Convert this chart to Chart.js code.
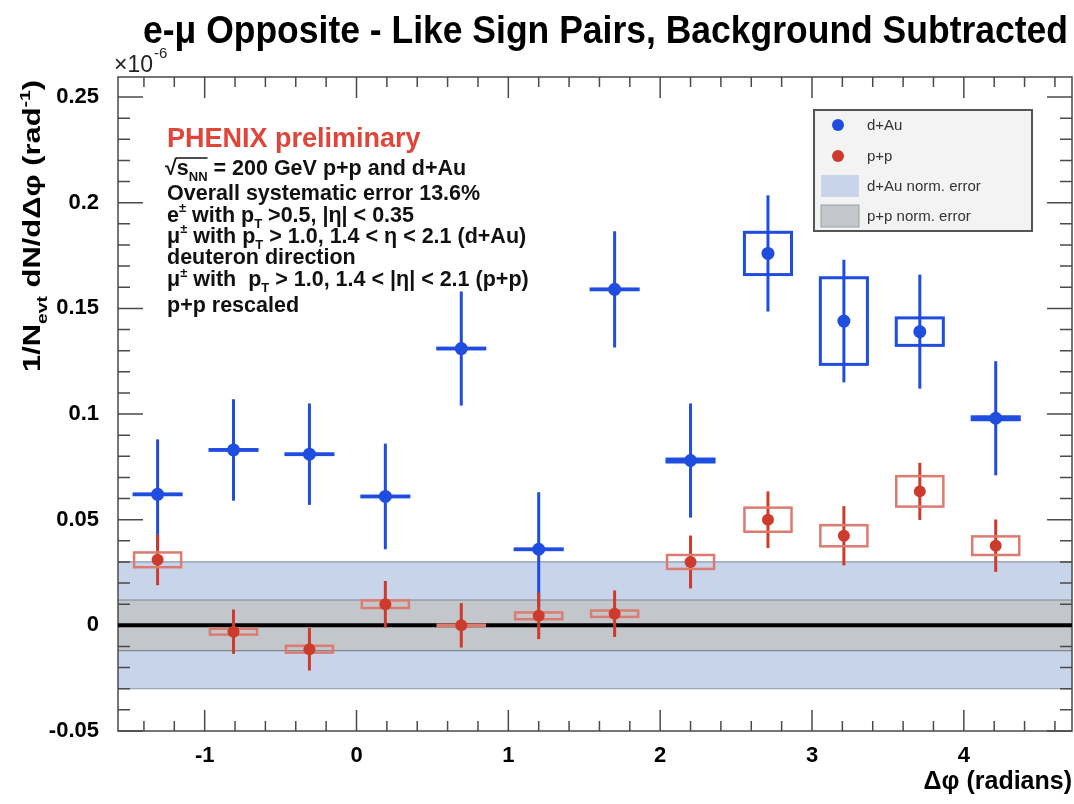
<!DOCTYPE html>
<html>
<head>
<meta charset="utf-8">
<script src="https://cdn.jsdelivr.net/npm/chart.js@4.4.1/dist/chart.umd.min.js"></script>
<style>
  html, body { margin: 0; padding: 0; background: #fff; overflow: hidden; }
  #wrap { position: relative; width: 1074px; height: 804px; }
</style>
</head>
<body>
<div id="wrap"><canvas id="emuChart"></canvas></div>
<script>
// bin centres in delta-phi (radians)
var phiBins = [-1.31, -0.81, -0.31, 0.19, 0.69, 1.20, 1.70, 2.20, 2.71, 3.21, 3.71, 4.21];

// d+Au pairs
var dAuValues = [0.062, 0.083, 0.081, 0.061, 0.131, 0.036, 0.159, 0.078, 0.176, 0.144, 0.139, 0.098];
var dAuStat   = [0.026, 0.024, 0.024, 0.025, 0.027, 0.027, 0.0275, 0.027, 0.0275, 0.029, 0.027, 0.027];
var dAuSys    = [0.0002, 0.0002, 0.0002, 0.0002, 0.0002, 0.0002, 0.0002, 0.0007, 0.010, 0.0205, 0.0065, 0.0007];

// p+p pairs (rescaled)
var ppValues = [0.031, -0.003, -0.0113, 0.010, 0.0, 0.0045, 0.0055, 0.030, 0.050, 0.0424, 0.0634, 0.0377];
var ppStat   = [0.012, 0.0105, 0.0101, 0.011, 0.0105, 0.011, 0.011, 0.0125, 0.0134, 0.014, 0.0135, 0.0124];
var ppSys    = [0.0035, 0.0014, 0.0016, 0.0018, 0.0003, 0.0016, 0.0015, 0.0033, 0.0057, 0.005, 0.0072, 0.0044];

// overall normalisation bands around zero
var dAuNormErr = 0.03;
var ppNormErr = 0.012;

var legendLabels = ['d+Au', 'p+p', 'd+Au norm. error', 'p+p norm. error'];

var blue = '#1f4de0';
var red = '#cc3b2b';
var redBox = '#dc7b70';
var blueBand = '#c7d4ea';
var greyBand = '#c3c6ca';
var FONT = '"Liberation Sans", Arial, Helvetica, sans-serif';
var BIN_HALF = 0.155;

function toPoints(xs, ys) {
    var out = [];
    for (var i = 0; i < xs.length; i++) {
        out.push({ x: xs[i], y: ys[i] });
    }
    return out;
}

// draws text made of runs: [text, 'sub' | 'sup' | undefined]
function drawRich(ctx, runs, x, y, size, weight) {
    var xs = [];
    runs.forEach(function (r) {
        var small = r[1] === 'sub' || r[1] === 'sup';
        var s = small ? Math.round(size * 0.62) : size;
        var dy = r[1] === 'sub' ? size * 0.3 : (r[1] === 'sup' ? -size * 0.42 : 0);
        ctx.font = weight + ' ' + s + 'px ' + FONT;
        xs.push(x);
        ctx.fillText(r[0], x, y + dy);
        x += ctx.measureText(r[0]).width;
    });
    xs.push(x);
    return xs;
}

function richWidth(ctx, runs, size, weight) {
    var w = 0;
    runs.forEach(function (r) {
        var small = r[1] === 'sub' || r[1] === 'sup';
        ctx.font = weight + ' ' + (small ? Math.round(size * 0.62) : size) + 'px ' + FONT;
        w += ctx.measureText(r[0]).width;
    });
    return w;
}

var yTitle = [['1/N'], ['evt', 'sub'], [' dN/d\u0394\u03c6 (rad'], ['-1', 'sup'], [')']];

var infoLines = [
    [['Overall systematic error 13.6%']],
    [['e'], ['\u00b1', 'sup'], [' with p'], ['T', 'sub'], [' >0.5, |\u03b7| < 0.35']],
    [['\u03bc'], ['\u00b1', 'sup'], [' with p'], ['T', 'sub'], [' > 1.0, 1.4 < \u03b7 < 2.1 (d+Au)']],
    [['deuteron direction']],
    [['\u03bc'], ['\u00b1', 'sup'], [' with  p'], ['T', 'sub'], [' > 1.0, 1.4 < |\u03b7| < 2.1 (p+p)']],
    [['p+p rescaled']]
];

var phenixPlugin = {
    id: 'phenixDecor',

    beforeDatasetsDraw: function (chart) {
        var ctx = chart.ctx, a = chart.chartArea;
        var xs = chart.scales.x, ys = chart.scales.y;
        ctx.save();

        // normalisation bands
        var bTop = ys.getPixelForValue(dAuNormErr), bBot = ys.getPixelForValue(-dAuNormErr);
        ctx.fillStyle = blueBand;
        ctx.fillRect(a.left, bTop, a.right - a.left, bBot - bTop);
        var gTop = ys.getPixelForValue(ppNormErr), gBot = ys.getPixelForValue(-ppNormErr);
        ctx.fillStyle = greyBand;
        ctx.fillRect(a.left, gTop, a.right - a.left, gBot - gTop);
        ctx.lineWidth = 1.2;
        ctx.strokeStyle = '#8d97a8';
        [bTop, bBot].forEach(function (py) {
            ctx.beginPath(); ctx.moveTo(a.left, py); ctx.lineTo(a.right, py); ctx.stroke();
        });
        ctx.strokeStyle = '#80868d';
        [gTop, gBot].forEach(function (py) {
            ctx.beginPath(); ctx.moveTo(a.left, py); ctx.lineTo(a.right, py); ctx.stroke();
        });

        // frame with inward ticks
        ctx.strokeStyle = '#4a4a4a';
        ctx.lineWidth = 1.5;
        var v, px, len;
        for (v = -1.4; v < 4.7; v += 0.2) {
            px = xs.getPixelForValue(v);
            len = Math.abs(v - Math.round(v)) < 1e-6 ? 21 : 10;
            ctx.beginPath();
            ctx.moveTo(px, a.bottom); ctx.lineTo(px, a.bottom - len);
            ctx.moveTo(px, a.top); ctx.lineTo(px, a.top + len);
            ctx.stroke();
        }
        for (var k = -5; k <= 25; k++) {
            px = ys.getPixelForValue(k / 100);
            len = k % 5 === 0 ? 25 : 12;
            ctx.beginPath();
            ctx.moveTo(a.left, px); ctx.lineTo(a.left + len, px);
            ctx.moveTo(a.right, px); ctx.lineTo(a.right - len, px);
            ctx.stroke();
        }
        ctx.strokeRect(a.left, a.top, a.right - a.left, a.bottom - a.top);

        // zero line
        var z = ys.getPixelForValue(0);
        ctx.strokeStyle = '#000';
        ctx.lineWidth = 4;
        ctx.beginPath(); ctx.moveTo(a.left, z); ctx.lineTo(a.right, z); ctx.stroke();
        ctx.restore();
    },

    // error bars and systematic boxes go under each dataset's markers
    beforeDatasetDraw: function (chart, args) {
        var ctx = chart.ctx;
        var xs = chart.scales.x, ys = chart.scales.y;
        var isPP = args.index === 0;
        var vals = isPP ? ppValues : dAuValues;
        var stat = isPP ? ppStat : dAuStat;
        var sys = isPP ? ppSys : dAuSys;
        ctx.save();
        for (var i = 0; i < phiBins.length; i++) {
            var cx = xs.getPixelForValue(phiBins[i]);
            ctx.strokeStyle = isPP ? red : blue;
            ctx.lineWidth = 3;
            ctx.beginPath();
            ctx.moveTo(cx, ys.getPixelForValue(vals[i] + stat[i]));
            ctx.lineTo(cx, ys.getPixelForValue(vals[i] - stat[i]));
            ctx.stroke();

            var x0 = xs.getPixelForValue(phiBins[i] - BIN_HALF);
            var x1 = xs.getPixelForValue(phiBins[i] + BIN_HALF);
            var y0 = ys.getPixelForValue(vals[i] + sys[i]);
            var y1 = ys.getPixelForValue(vals[i] - sys[i]);
            ctx.strokeStyle = isPP ? redBox : blue;
            ctx.lineWidth = isPP ? 2.5 : 3;
            ctx.strokeRect(x0, y0, x1 - x0, y1 - y0);
        }
        ctx.restore();
    },

    afterDraw: function (chart) {
        var ctx = chart.ctx;
        ctx.save();
        ctx.textBaseline = 'alphabetic';
        ctx.textAlign = 'left';

        // main title, squeezed to the frame width like a narrow face
        var title = 'e-\u03bc Opposite - Like Sign Pairs, Background Subtracted';
        ctx.font = 'bold 39px ' + FONT;
        var tw = ctx.measureText(title).width;
        ctx.fillStyle = '#000';
        ctx.save();
        ctx.translate(143, 43);
        ctx.scale(925 / tw, 1);
        ctx.fillText(title, 0, 0);
        ctx.restore();

        // axis exponent
        ctx.fillStyle = '#222';
        ctx.font = '23px ' + FONT;
        ctx.fillText('\u00d710', 114, 72);
        var ew = ctx.measureText('\u00d710').width;
        ctx.font = '15px ' + FONT;
        ctx.fillText('-6', 114 + ew + 1, 58);

        // y axis title, fitted along the axis
        var yw = richWidth(ctx, yTitle, 24, 'bold');
        ctx.save();
        ctx.translate(40, 372);
        ctx.rotate(-Math.PI / 2);
        ctx.scale(292 / yw, 1);
        ctx.fillStyle = '#000';
        drawRich(ctx, yTitle, 0, 0, 24, 'bold');
        ctx.restore();

        // experiment label and cuts
        ctx.fillStyle = '#e0453a';
        ctx.font = 'bold 27px ' + FONT;
        ctx.fillText('PHENIX preliminary', 167, 147);

        ctx.fillStyle = '#111';
        var xsq = drawRich(ctx, [['\u221a'], ['s'], ['NN', 'sub'], [' = 200 GeV p+p and d+Au']], 165, 175, 21.5, 'bold');
        ctx.strokeStyle = '#111';
        ctx.lineWidth = 1.6;
        ctx.beginPath();
        ctx.moveTo(xsq[1] - 1, 158);
        ctx.lineTo(xsq[3], 158);
        ctx.stroke();
        var base = [200, 221.5, 242.5, 263.5, 286, 311.5];
        infoLines.forEach(function (runs, i) {
            drawRich(ctx, runs, 167, base[i], 21.5, 'bold');
        });

        // legend box
        ctx.fillStyle = '#f3f3f3';
        ctx.fillRect(814, 110, 218, 121);
        ctx.strokeStyle = '#555';
        ctx.lineWidth = 2;
        ctx.strokeRect(814, 110, 218, 121);
        var rows = [125, 156, 186, 216];
        ctx.fillStyle = blue;
        ctx.beginPath(); ctx.arc(838, rows[0], 6, 0, 2 * Math.PI); ctx.fill();
        ctx.fillStyle = red;
        ctx.beginPath(); ctx.arc(838, rows[1], 6, 0, 2 * Math.PI); ctx.fill();
        ctx.fillStyle = blueBand;
        ctx.fillRect(821, rows[2] - 11, 38, 22);
        ctx.fillStyle = greyBand;
        ctx.fillRect(821, rows[3] - 11, 38, 22);
        ctx.strokeStyle = '#9aa1ab';
        ctx.lineWidth = 1;
        ctx.strokeRect(821, rows[3] - 11, 38, 22);
        ctx.fillStyle = '#333';
        ctx.font = '15px ' + FONT;
        ctx.textBaseline = 'middle';
        legendLabels.forEach(function (t, i) {
            ctx.fillText(t, 867, rows[i] + 1);
        });
        ctx.restore();
    }
};

var tickFont = { family: FONT, size: 22, weight: 'bold' };

var canvas = document.getElementById('emuChart');
var emuChart = new Chart(canvas, {
    type: 'scatter',
    data: {
        datasets: [
            {
                label: 'p+p',
                data: toPoints(phiBins, ppValues),
                backgroundColor: red,
                borderWidth: 0,
                pointRadius: 6,
                pointHoverRadius: 6
            },
            {
                label: 'd+Au',
                data: toPoints(phiBins, dAuValues),
                backgroundColor: blue,
                borderWidth: 0,
                pointRadius: 6.5,
                pointHoverRadius: 6.5
            }
        ]
    },
    options: {
        animation: false,
        responsive: true,
        maintainAspectRatio: false,
        events: [],
        layout: { autoPadding: false, padding: { top: 77, right: 2, bottom: 7, left: 0 } },
        plugins: {
            legend: { display: false },
            tooltip: { enabled: false }
        },
        scales: {
            x: {
                type: 'linear',
                min: -Math.PI / 2,
                max: 3 * Math.PI / 2,
                grid: { display: false },
                border: { display: false },
                ticks: { stepSize: 1, includeBounds: false, font: tickFont, color: '#000', padding: 4, maxRotation: 0 },
                title: { display: true, text: '\u0394\u03c6 (radians)', align: 'end', color: '#000', padding: 0,
                         font: { family: FONT, size: 25, weight: 'bold' } },
                afterFit: function (scale) { scale.height = 66; }
            },
            y: {
                type: 'linear',
                min: -0.05,
                max: 0.2595,
                grid: { display: false },
                border: { display: false },
                ticks: {
                    stepSize: 0.05, includeBounds: false, font: tickFont, color: '#000', padding: 11,
                    callback: function (v) { return String(+v.toFixed(2)); }
                },
                afterFit: function (scale) { scale.width = 118; }
            }
        }
    },
    plugins: [phenixPlugin]
});
</script>
</body>
</html>
